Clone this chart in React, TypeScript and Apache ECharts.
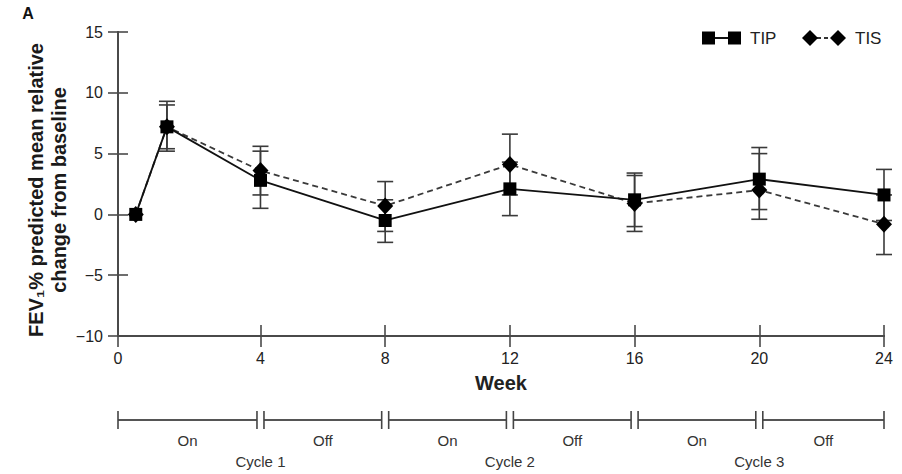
import { useEffect, useRef } from "react";
import * as echarts from "echarts";

// Study weeks and mean relative change (%) in FEV1 % predicted, with error-bar limits
const weeks = [0, 1, 4, 8, 12, 16, 20, 24];
const tipMean = [0, 7.2, 2.8, -0.5, 2.1, 1.2, 2.9, 1.6];
const tipLow = [null, 5.4, 0.5, -2.3, -0.1, -1.0, 0.4, -0.5];
const tipHigh = [null, 9.0, 5.2, 1.2, 4.3, 3.4, 5.5, 3.7];
const tisMean = [0, 7.2, 3.6, 0.7, 4.1, 0.9, 2.0, -0.8];
const tisLow = [null, 5.2, 1.6, -1.4, 1.6, -1.4, -0.4, -3.3];
const tisHigh = [null, 9.3, 5.6, 2.7, 6.6, 3.2, 5.0, 1.6];

// Axis ticks
const weekTicks = [0, 4, 8, 12, 16, 20, 24];
const yMin = -10;
const yMax = 15;
const yStep = 5;
// the x axis begins a little before week 0 so the baseline point sits clear of the y axis;
// the "0" tick is drawn at that start
const xAxisStart = -0.57;

// Treatment schedule below the axis
const phaseBounds = [0, 4, 8, 12, 16, 20, 24];
const phaseLabels = ["On", "Off", "On", "Off", "On", "Off"];
const cycleLabels = ["Cycle 1", "Cycle 2", "Cycle 3"];

const FONT = '"Liberation Sans", Arial, Helvetica, sans-serif';
const AXIS_COLOR = "#4a4a4a";

const tickPos = weekTicks.map((w) => (w === 0 ? xAxisStart : w));

function errorData(low: (number | null)[], high: (number | null)[]) {
  const out: number[][] = [];
  weeks.forEach((w, i) => {
    const lo = low[i];
    const hi = high[i];
    if (lo !== null && hi !== null) out.push([w, lo, hi]);
  });
  return out;
}

function renderErrorBar(_params: any, api: any) {
  const x = api.value(0);
  const lo = api.coord([x, api.value(1)]);
  const hi = api.coord([x, api.value(2)]);
  const w = 8;
  const style = { stroke: "#3a3a3a", lineWidth: 1.6 };
  return {
    type: "group",
    children: [
      { type: "line", shape: { x1: lo[0], y1: lo[1], x2: hi[0], y2: hi[1] }, style },
      { type: "line", shape: { x1: lo[0] - w, y1: lo[1], x2: lo[0] + w, y2: lo[1] }, style },
      { type: "line", shape: { x1: hi[0] - w, y1: hi[1], x2: hi[0] + w, y2: hi[1] }, style },
    ],
  };
}

function renderSchedule(_params: any, api: any) {
  const px = (w: number) => api.coord([w, yMin])[0];
  const barY = 420;
  const half = 9;
  const gap = 3.5;
  const style = { stroke: "#555", lineWidth: 2.2 };
  const capStyle = { stroke: "#444", lineWidth: 1.6 };
  const textStyle = (text: string) => ({
    text,
    align: "center",
    verticalAlign: "middle",
    font: `15px ${FONT}`,
    fill: "#333",
  });
  const children: any[] = [];
  const last = phaseBounds.length - 2;
  for (let i = 0; i <= last; i++) {
    const x1 = i === 0 ? px(xAxisStart) : px(phaseBounds[i]) + gap;
    const x2 = i === last ? px(phaseBounds[i + 1]) : px(phaseBounds[i + 1]) - gap;
    children.push({ type: "line", shape: { x1, y1: barY, x2, y2: barY }, style });
    children.push({ type: "line", shape: { x1, y1: barY - half, x2: x1, y2: barY + half }, style: capStyle });
    children.push({ type: "line", shape: { x1: x2, y1: barY - half, x2, y2: barY + half }, style: capStyle });
    children.push({ type: "text", x: (x1 + x2) / 2, y: barY + 20, style: textStyle(phaseLabels[i]) });
  }
  cycleLabels.forEach((label, c) => {
    const mid = (phaseBounds[c * 2] + phaseBounds[c * 2 + 2]) / 2;
    children.push({ type: "text", x: px(mid), y: barY + 41, style: textStyle(label) });
  });
  return { type: "group", children };
}

export default function App() {
  const ref = useRef<HTMLDivElement>(null);

  useEffect(() => {
    if (!ref.current) return;
    const chart = echarts.init(ref.current, undefined, { renderer: "svg" });

    const lineData = (mean: number[]) => weeks.map((w, i) => [w, mean[i]]);

    const baseX = {
      type: "value",
      min: xAxisStart,
      max: 24,
      splitLine: { show: false },
      axisLine: { show: true, onZero: false, lineStyle: { color: AXIS_COLOR, width: 2 } },
    };
    const baseY = {
      type: "value",
      min: yMin,
      max: yMax,
      interval: yStep,
      splitLine: { show: false },
      axisLine: { show: true, onZero: false, lineStyle: { color: AXIS_COLOR, width: 2 } },
    };

    const option: any = {
      animation: false,
      backgroundColor: "#ffffff",
      grid: { left: 118, right: 18, top: 32, bottom: 138, containLabel: false },
      xAxis: [
        {
          ...baseX,
          name: "Week",
          nameLocation: "middle",
          nameGap: 37,
          nameTextStyle: { fontFamily: FONT, fontSize: 20, fontWeight: "bold", color: "#222" },
          axisTick: {
            show: true,
            length: 11,
            customValues: tickPos,
            lineStyle: { color: AXIS_COLOR, width: 1.6 },
          },
          axisLabel: {
            customValues: tickPos,
            margin: 14,
            fontFamily: FONT,
            fontSize: 16,
            color: "#222",
            formatter: (v: number) => (v < 0 ? "0" : String(v)),
          },
        },
        {
          ...baseX,
          position: "bottom",
          axisTick: {
            show: true,
            inside: true,
            length: 11,
            customValues: tickPos,
            lineStyle: { color: AXIS_COLOR, width: 1.6 },
          },
          axisLabel: { show: false },
        },
      ],
      yAxis: [
        {
          ...baseY,
          axisTick: { show: true, length: 10, lineStyle: { color: AXIS_COLOR, width: 1.6 } },
          axisLabel: {
            margin: 15,
            fontFamily: FONT,
            fontSize: 16,
            color: "#222",
            formatter: (v: number) => (v < 0 ? "\u2212" + Math.abs(v) : String(v)),
          },
        },
        {
          ...baseY,
          position: "left",
          axisTick: { show: true, inside: true, length: 10, lineStyle: { color: AXIS_COLOR, width: 1.6 } },
          axisLabel: { show: false },
        },
      ],
      graphic: [
        {
          type: "text",
          x: 28,
          y: 13,
          style: { text: "A", font: `bold 16px ${FONT}`, fill: "#111", align: "center", verticalAlign: "middle" },
        },
        {
          type: "text",
          x: 47,
          y: 190,
          rotation: Math.PI / 2,
          style: {
            text: "FEV\u2081% predicted mean relative\nchange from baseline",
            font: `bold 20px ${FONT}`,
            lineHeight: 23,
            align: "center",
            verticalAlign: "middle",
            fill: "#1a1a1a",
          },
        },
        // legend: TIP
        { type: "line", shape: { x1: 708, y1: 38, x2: 735, y2: 38 }, style: { stroke: "#111", lineWidth: 2 } },
        { type: "rect", shape: { x: 702, y: 31.5, width: 13, height: 13 }, style: { fill: "#000" } },
        { type: "rect", shape: { x: 728, y: 31.5, width: 13, height: 13 }, style: { fill: "#000" } },
        {
          type: "text",
          x: 750,
          y: 38,
          style: { text: "TIP", font: `17px ${FONT}`, fill: "#222", verticalAlign: "middle" },
        },
        // legend: TIS
        {
          type: "line",
          shape: { x1: 810, y1: 38, x2: 838, y2: 38 },
          style: { stroke: "#333", lineWidth: 2, lineDash: [4, 3] },
        },
        {
          type: "polygon",
          shape: { points: [[810, 30], [818, 38], [810, 46], [802, 38]] },
          style: { fill: "#000" },
        },
        {
          type: "polygon",
          shape: { points: [[838, 30], [846, 38], [838, 46], [830, 38]] },
          style: { fill: "#000" },
        },
        {
          type: "text",
          x: 855,
          y: 38,
          style: { text: "TIS", font: `17px ${FONT}`, fill: "#222", verticalAlign: "middle" },
        },
      ],
      series: [
        {
          type: "custom",
          name: "TIS error",
          renderItem: renderErrorBar,
          data: errorData(tisLow, tisHigh),
          encode: { x: 0, y: [1, 2] },
          z: 1,
        },
        {
          type: "custom",
          name: "TIP error",
          renderItem: renderErrorBar,
          data: errorData(tipLow, tipHigh),
          encode: { x: 0, y: [1, 2] },
          z: 1,
        },
        {
          type: "line",
          name: "TIS",
          data: lineData(tisMean),
          symbol: "diamond",
          symbolSize: [16, 17],
          itemStyle: { color: "#000" },
          lineStyle: { color: "#3a3a3a", width: 1.8, type: [6, 4] },
          z: 3,
        },
        {
          type: "line",
          name: "TIP",
          data: lineData(tipMean),
          symbol: "rect",
          symbolSize: 13,
          itemStyle: { color: "#000" },
          lineStyle: { color: "#111", width: 1.8 },
          z: 4,
        },
        {
          type: "custom",
          name: "schedule",
          renderItem: renderSchedule,
          data: [[0, yMin]],
          encode: { x: 0, y: 1 },
          clip: false,
          silent: true,
          z: 1,
        },
      ],
    };

    chart.setOption(option);
    return () => chart.dispose();
  }, []);

  return (
    <div
      ref={ref}
      style={{ position: "absolute", left: 0, top: 0, width: 902, height: 474, background: "#fff" }}
    />
  );
}
